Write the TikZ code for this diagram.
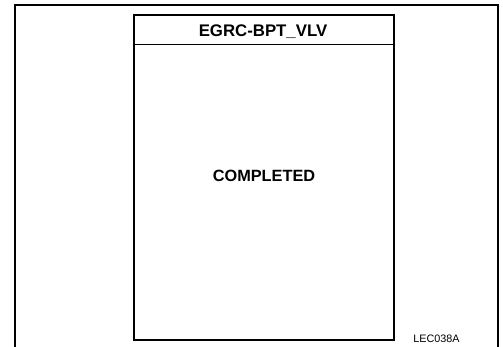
\documentclass[tikz,border=0pt]{standalone}
\usepackage{fontspec}
\setmainfont{Liberation Sans}
\begin{document}
\begin{tikzpicture}[x=1pt,y=-1pt,
  frameline/.style={line width=2pt},
  boxline/.style={line width=1.8pt},
  titletext/.style={font=\fontsize{16.8}{19}\selectfont\bfseries,anchor=base,inner sep=0pt},
  bodytext/.style={font=\fontsize{16.3}{19}\selectfont\bfseries,anchor=base,inner sep=0pt},
  codetext/.style={font=\fontsize{10.8}{13}\selectfont,anchor=base,inner sep=0pt}]
\useasboundingbox (0,0) rectangle (503,347);
\fill[white] (0,0) rectangle (503,347);
\draw[frameline] (14.5,347) -- (14.5,5) -- (498,5) -- (498,347);
\coordinate (tl) at (134,15);
\coordinate (br) at (394,340);
\draw[boxline] (tl) rectangle (br);
\draw[line width=1pt] (134,45) -- (394,45);
\node[titletext] (title) at (263,36.5) {EGRC-BPT\_VLV};
\node[bodytext] (body) at (264,181.5) {COMPLETED};
\node[codetext] (code) at (436.5,342.5) {LEC038A};
\end{tikzpicture}
\end{document}
